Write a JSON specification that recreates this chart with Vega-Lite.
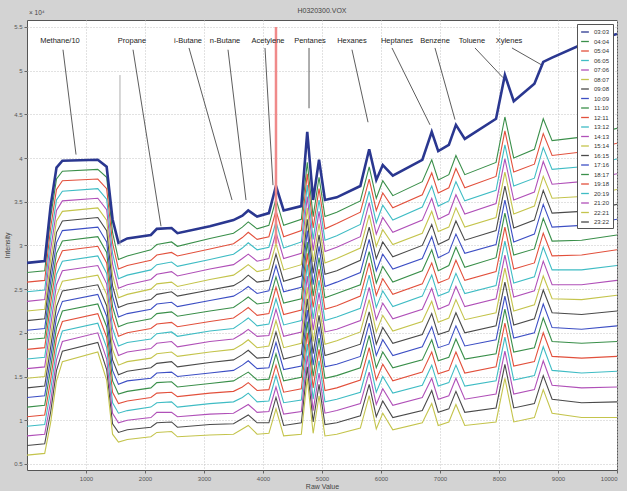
{
  "$schema": "https://vega.github.io/schema/vega-lite/v6.json",
  "width": 590,
  "height": 450,
  "autosize": {"type": "none"},
  "padding": {"left": 27, "top": 20, "right": 10, "bottom": 21},
  "background": "#d3d3d3",
  "title": {"text": "H0320300.VOX", "fontSize": 7, "fontWeight": "normal", "color": "#444", "offset": 5, "dy": 9, "font": "Liberation Sans", "frame": "group"},
  "config": {
    "font": "Liberation Sans",
    "view": {"fill": "white", "stroke": "#555", "strokeWidth": 1},
    "axis": {"domain": false, "labelFontSize": 6, "labelColor": "#555", "titleFontSize": 7, "titleFontWeight": "normal", "titleColor": "#444", "gridColor": "#c4c4c4", "gridDash": [1, 2], "tickColor": "#666", "tickSize": 3, "labelPadding": 2},
    "legend": {"orient": "top-right", "offset": 4, "padding": 3, "fillColor": "white", "strokeColor": "#555", "symbolType": "stroke", "symbolSize": 60, "symbolStrokeWidth": 1.3, "labelFontSize": 6, "labelColor": "#333", "rowPadding": 1.5, "labelOffset": 4, "cornerRadius": 0}
  },
  "datasets": {
    "spec": [
      {"x":0,"a":2.8,"b":2.69,"c":2.58,"d":2.47,"e":2.36,"f":2.25,"g":2.14,"h":2.03,"i":1.92,"j":1.81,"k":1.7,"l":1.59,"m":1.48,"n":1.37,"o":1.26,"p":1.15,"q":1.04,"r":0.93,"s":0.82,"t":0.71,"u":0.6},
      {"x":300,"a":2.82,"b":2.71,"c":2.6,"d":2.49,"e":2.38,"f":2.27,"g":2.16,"h":2.05,"i":1.94,"j":1.83,"k":1.72,"l":1.61,"m":1.5,"n":1.39,"o":1.28,"p":1.17,"q":1.06,"r":0.95,"s":0.84,"t":0.73,"u":0.62},
      {"x":400,"a":3.45,"b":3.32,"c":3.2,"d":3.08,"e":2.95,"f":2.83,"g":2.7,"h":2.58,"i":2.46,"j":2.33,"k":2.21,"l":2.08,"m":1.96,"n":1.83,"o":1.71,"p":1.59,"q":1.46,"r":1.34,"s":1.21,"t":1.09,"u":0.97},
      {"x":500,"a":3.89,"b":3.76,"c":3.64,"d":3.52,"e":3.4,"f":3.28,"g":3.15,"h":3.03,"i":2.91,"j":2.79,"k":2.67,"l":2.55,"m":2.42,"n":2.3,"o":2.18,"p":2.06,"q":1.94,"r":1.81,"s":1.69,"t":1.57,"u":1.45},
      {"x":600,"a":3.97,"b":3.85,"c":3.74,"d":3.62,"e":3.51,"f":3.39,"g":3.28,"h":3.17,"i":3.05,"j":2.94,"k":2.82,"l":2.71,"m":2.59,"n":2.48,"o":2.36,"p":2.25,"q":2.13,"r":2.02,"s":1.9,"t":1.79,"u":1.67},
      {"x":1200,"a":3.98,"b":3.87,"c":3.76,"d":3.65,"e":3.54,"f":3.43,"g":3.32,"h":3.21,"i":3.1,"j":2.99,"k":2.88,"l":2.77,"m":2.66,"n":2.55,"o":2.44,"p":2.33,"q":2.22,"r":2.11,"s":2.0,"t":1.89,"u":1.78},
      {"x":1350,"a":3.9,"b":3.78,"c":3.65,"d":3.53,"e":3.41,"f":3.29,"g":3.17,"h":3.04,"i":2.92,"j":2.8,"k":2.68,"l":2.56,"m":2.44,"n":2.31,"o":2.19,"p":2.07,"q":1.95,"r":1.83,"s":1.7,"t":1.58,"u":1.46},
      {"x":1450,"a":3.3,"b":3.15,"c":3.03,"d":2.91,"e":2.79,"f":2.66,"g":2.54,"h":2.42,"i":2.3,"j":2.18,"k":2.05,"l":1.93,"m":1.81,"n":1.69,"o":1.57,"p":1.45,"q":1.32,"r":1.2,"s":1.08,"t":0.96,"u":0.84},
      {"x":1550,"a":3.03,"b":2.84,"c":2.73,"d":2.62,"e":2.51,"f":2.4,"g":2.29,"h":2.18,"i":2.07,"j":1.96,"k":1.85,"l":1.74,"m":1.63,"n":1.52,"o":1.41,"p":1.3,"q":1.19,"r":1.08,"s":0.97,"t":0.86,"u":0.75},
      {"x":1700,"a":3.08,"b":2.88,"c":2.77,"d":2.66,"e":2.55,"f":2.44,"g":2.33,"h":2.22,"i":2.11,"j":2.0,"k":1.89,"l":1.78,"m":1.67,"n":1.56,"o":1.45,"p":1.33,"q":1.22,"r":1.11,"s":1.0,"t":0.89,"u":0.78},
      {"x":2100,"a":3.12,"b":2.95,"c":2.83,"d":2.72,"e":2.61,"f":2.5,"g":2.38,"h":2.27,"i":2.16,"j":2.05,"k":1.93,"l":1.82,"m":1.71,"n":1.6,"o":1.48,"p":1.37,"q":1.26,"r":1.15,"s":1.03,"t":0.92,"u":0.81},
      {"x":2200,"a":3.19,"b":3.01,"c":2.89,"d":2.78,"e":2.67,"f":2.56,"g":2.44,"h":2.33,"i":2.22,"j":2.1,"k":1.99,"l":1.88,"m":1.76,"n":1.65,"o":1.54,"p":1.43,"q":1.31,"r":1.2,"s":1.09,"t":0.97,"u":0.86},
      {"x":2450,"a":3.2,"b":3.04,"c":2.92,"d":2.81,"e":2.7,"f":2.58,"g":2.47,"h":2.35,"i":2.24,"j":2.12,"k":2.01,"l":1.9,"m":1.78,"n":1.67,"o":1.55,"p":1.44,"q":1.32,"r":1.21,"s":1.09,"t":0.98,"u":0.87},
      {"x":2550,"a":3.14,"b":2.99,"c":2.88,"d":2.76,"e":2.65,"f":2.53,"g":2.42,"h":2.3,"i":2.19,"j":2.07,"k":1.96,"l":1.84,"m":1.73,"n":1.61,"o":1.5,"p":1.38,"q":1.27,"r":1.15,"s":1.04,"t":0.92,"u":0.81},
      {"x":3100,"a":3.22,"b":3.08,"c":2.96,"d":2.84,"e":2.73,"f":2.61,"g":2.49,"h":2.37,"i":2.25,"j":2.13,"k":2.02,"l":1.9,"m":1.78,"n":1.66,"o":1.54,"p":1.42,"q":1.31,"r":1.19,"s":1.07,"t":0.95,"u":0.83},
      {"x":3500,"a":3.29,"b":3.14,"c":3.02,"d":2.9,"e":2.78,"f":2.66,"g":2.54,"h":2.42,"i":2.29,"j":2.17,"k":2.05,"l":1.93,"m":1.81,"n":1.69,"o":1.57,"p":1.45,"q":1.33,"r":1.21,"s":1.08,"t":0.96,"u":0.84},
      {"x":3650,"a":3.34,"b":3.21,"c":3.09,"d":2.97,"e":2.85,"f":2.73,"g":2.6,"h":2.48,"i":2.36,"j":2.24,"k":2.12,"l":1.99,"m":1.87,"n":1.75,"o":1.63,"p":1.51,"q":1.38,"r":1.26,"s":1.14,"t":1.02,"u":0.9},
      {"x":3750,"a":3.4,"b":3.27,"c":3.15,"d":3.03,"e":2.9,"f":2.78,"g":2.66,"h":2.53,"i":2.41,"j":2.29,"k":2.17,"l":2.04,"m":1.92,"n":1.8,"o":1.68,"p":1.55,"q":1.43,"r":1.31,"s":1.18,"t":1.06,"u":0.94},
      {"x":3900,"a":3.33,"b":3.19,"c":3.07,"d":2.95,"e":2.82,"f":2.7,"g":2.58,"h":2.45,"i":2.33,"j":2.2,"k":2.08,"l":1.96,"m":1.83,"n":1.71,"o":1.59,"p":1.46,"q":1.34,"r":1.21,"s":1.09,"t":0.97,"u":0.84},
      {"x":4100,"a":3.37,"b":3.23,"c":3.1,"d":2.98,"e":2.85,"f":2.73,"g":2.6,"h":2.48,"i":2.35,"j":2.22,"k":2.1,"l":1.97,"m":1.85,"n":1.72,"o":1.6,"p":1.47,"q":1.35,"r":1.22,"s":1.1,"t":0.97,"u":0.85},
      {"x":4220,"a":3.68,"b":3.53,"c":3.4,"d":3.27,"e":3.15,"f":3.02,"g":2.9,"h":2.77,"i":2.64,"j":2.52,"k":2.39,"l":2.27,"m":2.14,"n":2.01,"o":1.89,"p":1.76,"q":1.63,"r":1.51,"s":1.38,"t":1.26,"u":1.13},
      {"x":4350,"a":3.4,"b":3.23,"c":3.1,"d":2.97,"e":2.85,"f":2.72,"g":2.59,"h":2.47,"i":2.34,"j":2.21,"k":2.09,"l":1.96,"m":1.83,"n":1.7,"o":1.58,"p":1.45,"q":1.32,"r":1.2,"s":1.07,"t":0.94,"u":0.82},
      {"x":4650,"a":3.45,"b":3.3,"c":3.17,"d":3.04,"e":2.91,"f":2.78,"g":2.65,"h":2.52,"i":2.39,"j":2.26,"k":2.14,"l":2.01,"m":1.88,"n":1.75,"o":1.62,"p":1.49,"q":1.36,"r":1.23,"s":1.1,"t":0.97,"u":0.84},
      {"x":4750,"a":4.3,"b":3.95,"c":3.82,"d":3.69,"e":3.56,"f":3.43,"g":3.3,"h":3.17,"i":3.04,"j":2.91,"k":2.78,"l":2.65,"m":2.52,"n":2.39,"o":2.26,"p":2.13,"q":2.0,"r":1.87,"s":1.74,"t":1.61,"u":1.48},
      {"x":4850,"a":3.52,"b":3.33,"c":3.2,"d":3.07,"e":2.94,"f":2.81,"g":2.68,"h":2.55,"i":2.42,"j":2.29,"k":2.16,"l":2.03,"m":1.9,"n":1.76,"o":1.63,"p":1.5,"q":1.37,"r":1.24,"s":1.11,"t":0.98,"u":0.85},
      {"x":4950,"a":3.98,"b":3.78,"c":3.65,"d":3.52,"e":3.39,"f":3.25,"g":3.12,"h":2.99,"i":2.86,"j":2.73,"k":2.6,"l":2.46,"m":2.33,"n":2.2,"o":2.07,"p":1.94,"q":1.81,"r":1.68,"s":1.54,"t":1.41,"u":1.28},
      {"x":5050,"a":3.52,"b":3.33,"c":3.19,"d":3.06,"e":2.93,"f":2.8,"g":2.67,"h":2.53,"i":2.4,"j":2.27,"k":2.14,"l":2.01,"m":1.87,"n":1.74,"o":1.61,"p":1.48,"q":1.34,"r":1.21,"s":1.08,"t":0.95,"u":0.82},
      {"x":5250,"a":3.55,"b":3.38,"c":3.25,"d":3.11,"e":2.98,"f":2.85,"g":2.71,"h":2.58,"i":2.45,"j":2.31,"k":2.18,"l":2.04,"m":1.91,"n":1.78,"o":1.64,"p":1.51,"q":1.37,"r":1.24,"s":1.11,"t":0.97,"u":0.84},
      {"x":5650,"a":3.68,"b":3.51,"c":3.38,"d":3.24,"e":3.1,"f":2.97,"g":2.83,"h":2.69,"i":2.55,"j":2.42,"k":2.28,"l":2.14,"m":2.01,"n":1.87,"o":1.73,"p":1.6,"q":1.46,"r":1.32,"s":1.19,"t":1.05,"u":0.91},
      {"x":5800,"a":4.1,"b":3.9,"c":3.76,"d":3.62,"e":3.49,"f":3.35,"g":3.21,"h":3.07,"i":2.93,"j":2.8,"k":2.66,"l":2.52,"m":2.38,"n":2.24,"o":2.11,"p":1.97,"q":1.83,"r":1.69,"s":1.55,"t":1.41,"u":1.28},
      {"x":5920,"a":3.75,"b":3.54,"c":3.4,"d":3.26,"e":3.13,"f":2.99,"g":2.85,"h":2.71,"i":2.57,"j":2.43,"k":2.29,"l":2.15,"m":2.01,"n":1.87,"o":1.74,"p":1.6,"q":1.46,"r":1.32,"s":1.18,"t":1.04,"u":0.9},
      {"x":6030,"a":3.92,"b":3.74,"c":3.6,"d":3.46,"e":3.32,"f":3.18,"g":3.04,"h":2.9,"i":2.76,"j":2.62,"k":2.48,"l":2.34,"m":2.2,"n":2.06,"o":1.92,"p":1.78,"q":1.64,"r":1.5,"s":1.36,"t":1.22,"u":1.08},
      {"x":6200,"a":3.8,"b":3.57,"c":3.43,"d":3.29,"e":3.15,"f":3.01,"g":2.87,"h":2.73,"i":2.58,"j":2.44,"k":2.3,"l":2.16,"m":2.02,"n":1.88,"o":1.74,"p":1.6,"q":1.45,"r":1.31,"s":1.17,"t":1.03,"u":0.89},
      {"x":6700,"a":3.98,"b":3.73,"c":3.58,"d":3.44,"e":3.29,"f":3.14,"g":3.0,"h":2.85,"i":2.71,"j":2.56,"k":2.42,"l":2.27,"m":2.13,"n":1.98,"o":1.84,"p":1.69,"q":1.55,"r":1.4,"s":1.26,"t":1.11,"u":0.97},
      {"x":6860,"a":4.3,"b":3.98,"c":3.83,"d":3.68,"e":3.54,"f":3.39,"g":3.24,"h":3.1,"i":2.95,"j":2.8,"k":2.66,"l":2.51,"m":2.36,"n":2.22,"o":2.07,"p":1.92,"q":1.78,"r":1.63,"s":1.48,"t":1.34,"u":1.19},
      {"x":6970,"a":4.08,"b":3.75,"c":3.6,"d":3.45,"e":3.3,"f":3.16,"g":3.01,"h":2.86,"i":2.71,"j":2.57,"k":2.42,"l":2.27,"m":2.12,"n":1.98,"o":1.83,"p":1.68,"q":1.53,"r":1.39,"s":1.24,"t":1.09,"u":0.94},
      {"x":7150,"a":4.15,"b":3.81,"c":3.66,"d":3.51,"e":3.36,"f":3.21,"g":3.07,"h":2.92,"i":2.77,"j":2.62,"k":2.47,"l":2.32,"m":2.17,"n":2.02,"o":1.87,"p":1.72,"q":1.57,"r":1.43,"s":1.28,"t":1.13,"u":0.98},
      {"x":7270,"a":4.38,"b":4.03,"c":3.88,"d":3.73,"e":3.58,"f":3.43,"g":3.28,"h":3.13,"i":2.98,"j":2.83,"k":2.68,"l":2.53,"m":2.38,"n":2.23,"o":2.08,"p":1.93,"q":1.78,"r":1.63,"s":1.48,"t":1.33,"u":1.18},
      {"x":7420,"a":4.22,"b":3.81,"c":3.66,"d":3.51,"e":3.36,"f":3.21,"g":3.06,"h":2.91,"i":2.75,"j":2.6,"k":2.45,"l":2.3,"m":2.15,"n":2.0,"o":1.85,"p":1.7,"q":1.54,"r":1.39,"s":1.24,"t":1.09,"u":0.94},
      {"x":7950,"a":4.45,"b":3.95,"c":3.79,"d":3.63,"e":3.48,"f":3.32,"g":3.17,"h":3.01,"i":2.86,"j":2.7,"k":2.54,"l":2.39,"m":2.23,"n":2.08,"o":1.92,"p":1.76,"q":1.61,"r":1.45,"s":1.3,"t":1.14,"u":0.98},
      {"x":8100,"a":4.95,"b":4.47,"c":4.31,"d":4.15,"e":3.99,"f":3.84,"g":3.68,"h":3.52,"i":3.37,"j":3.21,"k":3.05,"l":2.89,"m":2.74,"n":2.58,"o":2.42,"p":2.27,"q":2.11,"r":1.95,"s":1.79,"t":1.64,"u":1.48},
      {"x":8250,"a":4.65,"b":4.0,"c":3.84,"d":3.68,"e":3.52,"f":3.36,"g":3.2,"h":3.04,"i":2.89,"j":2.73,"k":2.57,"l":2.41,"m":2.25,"n":2.09,"o":1.94,"p":1.78,"q":1.62,"r":1.46,"s":1.3,"t":1.14,"u":0.98},
      {"x":8600,"a":4.85,"b":4.1,"c":3.93,"d":3.77,"e":3.61,"f":3.45,"g":3.29,"h":3.13,"i":2.96,"j":2.8,"k":2.64,"l":2.48,"m":2.32,"n":2.16,"o":2.0,"p":1.83,"q":1.67,"r":1.51,"s":1.35,"t":1.19,"u":1.03},
      {"x":8750,"a":5.1,"b":4.45,"c":4.28,"d":4.12,"e":3.96,"f":3.79,"g":3.63,"h":3.47,"i":3.31,"j":3.14,"k":2.98,"l":2.82,"m":2.65,"n":2.49,"o":2.33,"p":2.17,"q":2.0,"r":1.84,"s":1.68,"t":1.51,"u":1.35},
      {"x":8900,"a":5.15,"b":4.2,"c":4.03,"d":3.87,"e":3.7,"f":3.54,"g":3.37,"h":3.21,"i":3.05,"j":2.88,"k":2.72,"l":2.55,"m":2.39,"n":2.23,"o":2.06,"p":1.9,"q":1.73,"r":1.57,"s":1.4,"t":1.24,"u":1.08},
      {"x":9400,"a":5.3,"b":4.24,"c":4.07,"d":3.9,"e":3.73,"f":3.56,"g":3.39,"h":3.23,"i":3.06,"j":2.89,"k":2.72,"l":2.55,"m":2.38,"n":2.21,"o":2.04,"p":1.88,"q":1.71,"r":1.54,"s":1.37,"t":1.2,"u":1.03},
      {"x":10000,"a":5.42,"b":4.34,"c":4.17,"d":3.99,"e":3.82,"f":3.64,"g":3.47,"h":3.3,"i":3.12,"j":2.95,"k":2.77,"l":2.6,"m":2.43,"n":2.25,"o":2.08,"p":1.9,"q":1.73,"r":1.56,"s":1.38,"t":1.21,"u":1.03}
    ],
    "names": [
      {"k":"a","time":"03:03"},{"k":"b","time":"04:04"},{"k":"c","time":"05:04"},{"k":"d","time":"06:05"},{"k":"e","time":"07:06"},{"k":"f","time":"08:07"},{"k":"g","time":"09:08"},{"k":"h","time":"10:09"},{"k":"i","time":"11:10"},{"k":"j","time":"12:11"},{"k":"k","time":"13:12"},{"k":"l","time":"14:13"},{"k":"m","time":"15:14"},{"k":"n","time":"16:15"},{"k":"o","time":"17:16"},{"k":"p","time":"18:17"},{"k":"q","time":"19:18"},{"k":"r","time":"20:19"},{"k":"s","time":"21:20"},{"k":"t","time":"23:22"},{"k":"u","time":"22:21"}
    ],
    "ann": [
      {"label":"Methane/10","x":559,"y":5.34},{"label":"Propane","x":1780,"y":5.34},{"label":"i-Butane","x":2729,"y":5.34},{"label":"n-Butane","x":3356,"y":5.34},{"label":"Acetylene","x":4085,"y":5.34},{"label":"Pentanes","x":4797,"y":5.34},{"label":"Hexanes","x":5508,"y":5.34},{"label":"Heptanes","x":6271,"y":5.34},{"label":"Benzene","x":6915,"y":5.34},{"label":"Toluene","x":7542,"y":5.34},{"label":"Xylenes","x":8169,"y":5.34}
    ],
    "arrows": [
      {"x":610,"y":5.24,"x2":831,"y2":4.04},
      {"x":1797,"y":5.24,"x2":2271,"y2":3.22},
      {"x":2746,"y":5.26,"x2":3475,"y2":3.52},
      {"x":3407,"y":5.24,"x2":3712,"y2":3.52},
      {"x":4034,"y":5.26,"x2":4169,"y2":3.69},
      {"x":4780,"y":5.26,"x2":4780,"y2":4.57},
      {"x":5508,"y":5.24,"x2":5780,"y2":4.41},
      {"x":6186,"y":5.26,"x2":6831,"y2":4.38},
      {"x":6915,"y":5.26,"x2":7254,"y2":4.44},
      {"x":7593,"y":5.26,"x2":8068,"y2":4.92},
      {"x":8220,"y":5.26,"x2":8712,"y2":5.07}
    ],
    "vlines": [
      {"x":4220,"y":3.02,"y2":5.5,"c":"red"},
      {"x":1576,"y":3.0,"y2":4.95,"c":"gray"}
    ]
  },
  "encoding": {
    "x": {"field": "x", "type": "quantitative", "scale": {"domain": [0, 10000], "nice": false},
          "axis": {"title": "Raw Value", "values": [1000,2000,3000,4000,5000,6000,7000,8000,9000,10000], "format": "d", "grid": true, "titlePadding": 1}},
    "y": {"field": "y", "type": "quantitative", "scale": {"domain": [0.43, 5.58], "nice": false, "zero": false},
          "axis": {"title": "Intensity", "values": [0.5,1,1.5,2,2.5,3,3.5,4,4.5,5,5.5], "format": "~g", "grid": true, "titlePadding": 3}}
  },
  "layer": [
    {
      "data": {"name": "spec"},
      "transform": [
        {"fold": ["a","b","c","d","e","f","g","h","i","j","k","l","m","n","o","p","q","r","s","t","u"], "as": ["k", "y"]},
        {"lookup": "k", "from": {"data": {"name": "names"}, "key": "k", "fields": ["time"]}},
        {"filter": "datum.k !== 'a'"}
      ],
      "mark": {"type": "line", "strokeWidth": 1.1, "clip": true},
      "encoding": {
        "color": {"field": "time", "type": "nominal",
          "scale": {"domain": ["03:03","04:04","05:04","06:05","07:06","08:07","09:08","10:09","11:10","12:11","13:12","14:13","15:14","16:15","17:16","18:17","19:18","20:19","21:20","22:21","23:22"],
                    "range": ["#2a3790","#3a8f4a","#e2503c","#3fbcc4","#b050b8","#c4c44c","#4a4a4a","#3d4fc4","#3a8f4a","#e2503c","#3fbcc4","#b050b8","#c4c44c","#4a4a4a","#3d4fc4","#3a8f4a","#e2503c","#3fbcc4","#b050b8","#c4c44c","#4a4a4a"]},
          "legend": {"title": null}}
      }
    },
    {
      "data": {"name": "spec"},
      "transform": [
        {"fold": ["a"], "as": ["k", "y"]},
        {"lookup": "k", "from": {"data": {"name": "names"}, "key": "k", "fields": ["time"]}}
      ],
      "mark": {"type": "line", "strokeWidth": 2.6, "clip": true},
      "encoding": {"color": {"field": "time", "type": "nominal", "legend": {"title": null}}}
    },
    {
      "data": {"name": "vlines"},
      "transform": [{"filter": "datum.c === 'red'"}],
      "mark": {"type": "rule", "color": "#f08a8a", "strokeWidth": 2.5, "clip": true},
      "encoding": {"y2": {"field": "y2"}}
    },
    {
      "data": {"name": "vlines"},
      "transform": [{"filter": "datum.c === 'gray'"}],
      "mark": {"type": "rule", "color": "#999", "strokeWidth": 0.8, "clip": true},
      "encoding": {"y2": {"field": "y2"}}
    },
    {
      "data": {"name": "arrows"},
      "mark": {"type": "rule", "color": "#333", "strokeWidth": 0.8},
      "encoding": {"x2": {"field": "x2"}, "y2": {"field": "y2"}}
    },
    {
      "data": {"name": "ann"},
      "mark": {"type": "text", "fontSize": 7.5, "color": "#222", "font": "Liberation Sans"},
      "encoding": {"text": {"field": "label"}}
    },
    {
      "data": {"values": [{"x": 0, "y": 5.66, "t": "× 10⁴"}]},
      "mark": {"type": "text", "fontSize": 6.5, "color": "#444", "align": "left", "dx": 2},
      "encoding": {"text": {"field": "t"}}
    }
  ]
}
